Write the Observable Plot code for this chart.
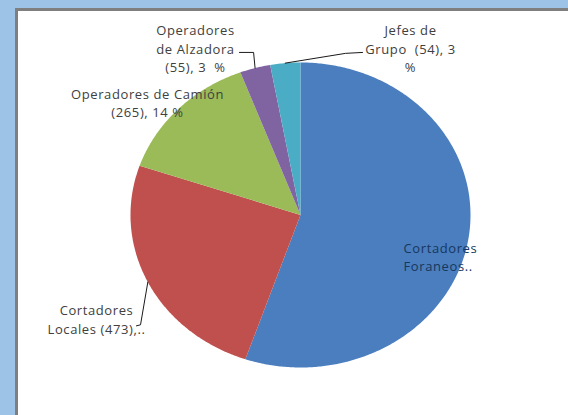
<!DOCTYPE html>
<html><head><meta charset="utf-8">
<script src="https://cdn.jsdelivr.net/npm/d3@7"></script>
<script src="https://cdn.jsdelivr.net/npm/@observablehq/plot@0.6"></script>
<style>
html,body{margin:0;padding:0;width:568px;height:415px;overflow:hidden;background:#9DC3E6;}
#panel{position:absolute;left:15px;top:8px;width:553px;height:407px;background:#fff;border-left:3px solid #7f7f7f;border-top:3px solid #7f7f7f;box-sizing:border-box;}
#chart{position:absolute;left:0;top:0;}
#chart text{letter-spacing:0.6px;}
</style></head><body><div id="panel"></div><div id="chart"></div>
<script>
// ---- data ----
const categories = ["Cortadores Foraneos", "Cortadores Locales", "Operadores de Camión", "Operadores de Alzadora", "Jefes de Grupo"];
const counts = [1046, 473, 265, 55, 54];
const labelTexts = ["Cortadores\nForaneos..", "Cortadores\nLocales (473),..", "Operadores de Camión\n(265), 14 %", "Operadores\nde Alzadora\n(55), 3  %", "Jefes de\nGrupo  (54), 3\n%"];
// ---- styling / layout ----
const sliceColors = ["#4A7EBF", "#C0504D", "#9BBB59", "#8064A2", "#4BACC6"];
const labelPos = [[0.606, -0.27], [-1.2, -0.68], [-0.9, 0.74], [-0.618, 1.095], [0.647, 1.095]];
const labelAnchor = ["start", "middle", "middle", "middle", "middle"];
const leaderBends = [null, [[-0.941, -0.72], [-0.965, -0.727]], null, [[-0.276, 1.066], [-0.359, 1.066]], [[0.265, 1.06], [0.365, 1.066]]];

const pie = d3.pie().sort(null).value(d => d.count);
const rows = categories.map((name, i) => ({name, count: counts[i], i}));
const arcs = pie(rows);

// polygon points for each slice (angles clockwise from top)
const polys = [];
for (const a of arcs) {
  const n = Math.max(4, Math.ceil((a.endAngle - a.startAngle) / 0.01));
  polys.push({name: a.data.name, u: 0, v: 0});
  for (let k = 0; k <= n; k++) {
    const t = a.startAngle + (a.endAngle - a.startAngle) * k / n;
    polys.push({name: a.data.name, u: Math.sin(t), v: Math.cos(t)});
  }
  polys.push({name: a.data.name, u: 0, v: 0});
}

// leader lines from slice mid-arc to label
const leaders = [];
arcs.forEach((a, i) => {
  if (!leaderBends[i]) return;
  const m = (a.startAngle + a.endAngle) / 2;
  leaders.push({id: i, u: Math.sin(m), v: Math.cos(m)});
  for (const [u, v] of leaderBends[i]) leaders.push({id: i, u, v});
});

const labels = rows.map((r, i) => ({text: labelTexts[i], u: labelPos[i][0], v: labelPos[i][1], anchor: labelAnchor[i], i}));

const chart = Plot.plot({
  width: 568, height: 415, margin: 0,
  x: {domain: [-1, 1], range: [130, 470], axis: null},
  y: {domain: [-1, 1], range: [367, 62], axis: null},
  color: {domain: categories, range: sliceColors},
  style: {background: "transparent", fontFamily: "'Open Sans', sans-serif", overflow: "visible"},
  marks: [
    Plot.line(polys, {x: "u", y: "v", z: "name", fill: "name", stroke: "none", curve: "linear"}),
    Plot.line(leaders, {x: "u", y: "v", z: "id", stroke: "#1a1a1a", strokeWidth: 1}),
    Plot.text(labels.filter(d => d.anchor === "middle"), {x: "u", y: "v", text: "text", textAnchor: "middle", lineAnchor: "middle", lineHeight: 1.42, fontSize: 13, fill: "#404040"}),
    Plot.text(labels.filter(d => d.anchor === "start"), {x: "u", y: "v", text: "text", textAnchor: "start", lineAnchor: "middle", lineHeight: 1.42, fontSize: 13, fill: "#17375E"})
  ]
});
document.getElementById("chart").appendChild(chart);
</script></body></html>
